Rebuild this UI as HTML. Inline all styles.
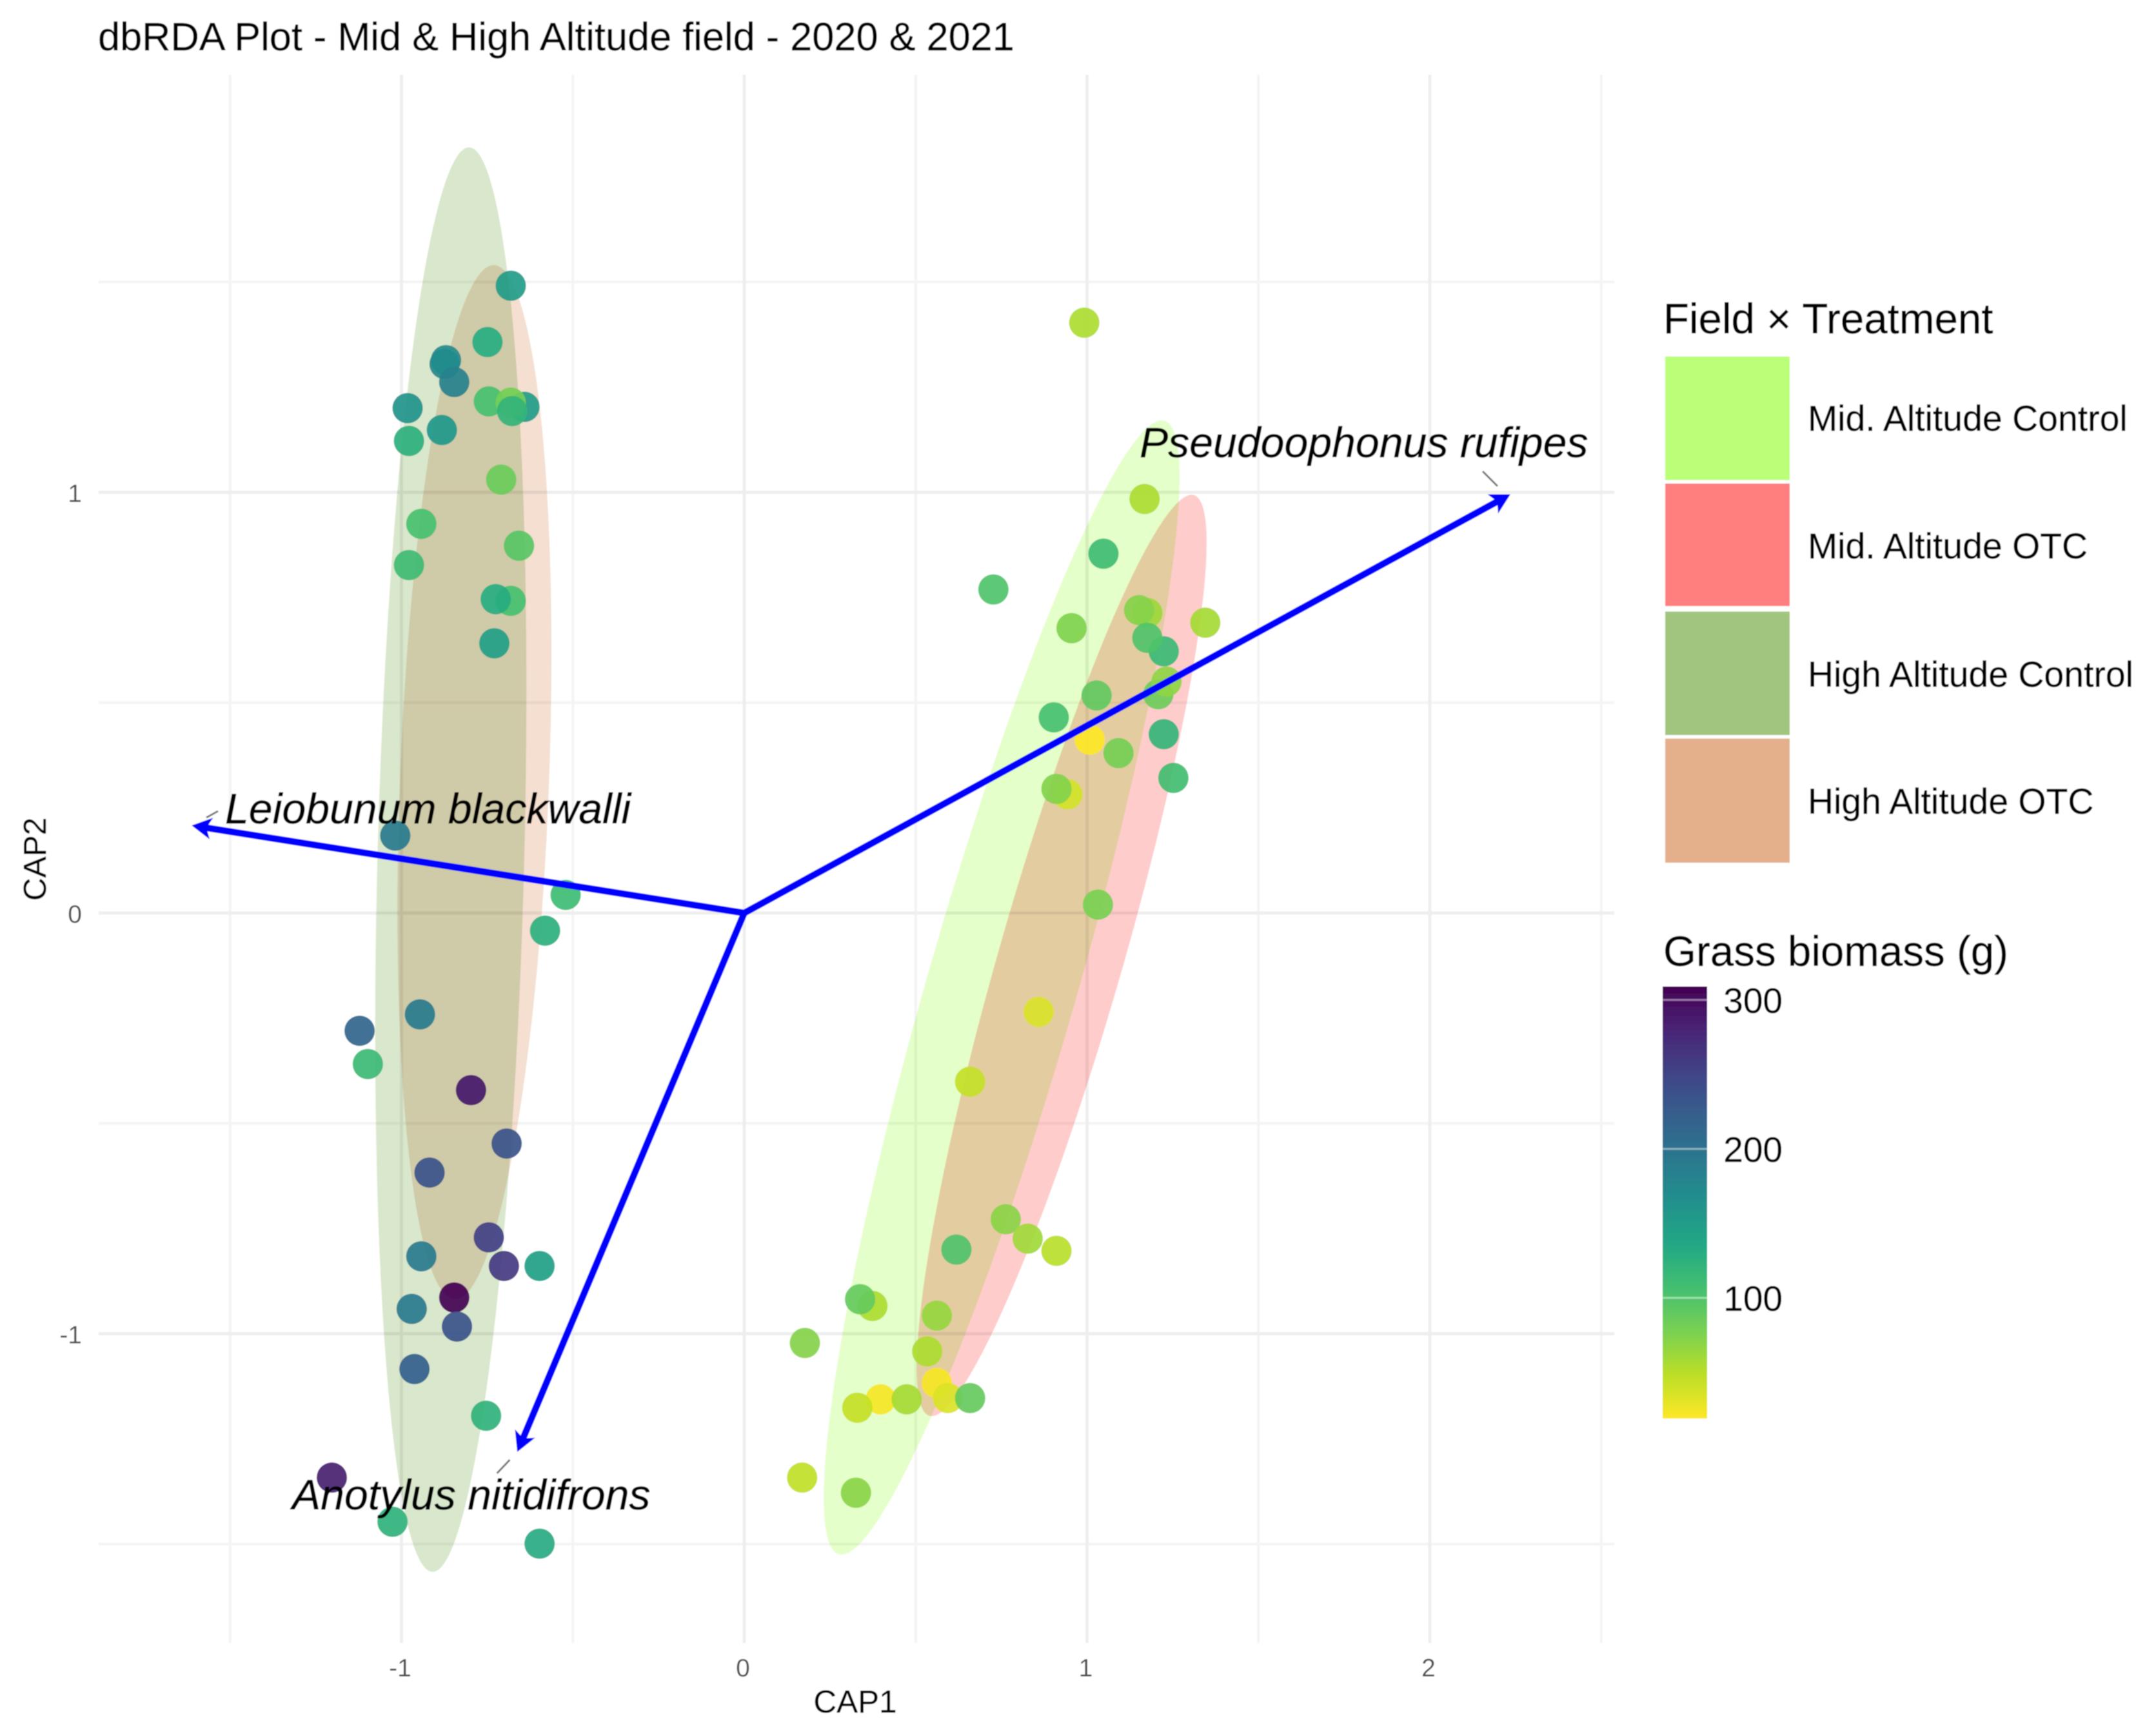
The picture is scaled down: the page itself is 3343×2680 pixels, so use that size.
<!DOCTYPE html>
<html lang="en">
<head>
<meta charset="utf-8">
<title>dbRDA Plot</title>
<style>
html,body{margin:0;padding:0;background:#fff;}
svg{display:block;}
text{font-family:"Liberation Sans",sans-serif;}
.sp{font-style:italic;font-size:66.2px;fill:#000;stroke:#000;stroke-width:0.6px;}
.key{font-size:55.4px;fill:#000;stroke:#000;stroke-width:0.4px;}
.lt{font-size:65.5px;fill:#000;stroke:#000;stroke-width:0.4px;}
.at{font-size:49.5px;fill:#000;stroke:#000;stroke-width:0.3px;}
.cb{font-size:55px;fill:#000;stroke:#000;stroke-width:0.3px;}
.tick{font-size:39px;fill:#4d4d4d;}
</style>
</head>
<body>
<svg id="chart" width="3343" height="2680" viewBox="0 0 3343 2680" xmlns="http://www.w3.org/2000/svg">
  <defs>
    <linearGradient id="viridis-grad" x1="0" y1="1" x2="0" y2="0"></linearGradient>
    <filter id="soft" x="0" y="0" width="100%" height="100%"><feGaussianBlur stdDeviation="0.85"/></filter>
  </defs>
  <g filter="url(#soft)">
    <rect width="3343" height="2680" fill="#fff"/>
    <g id="grid"></g>
    <g id="ellipses"></g>
    <g id="points"></g>
    <g id="arrows"></g>
    <g>
      <line x1="2299" y1="731" x2="2322" y2="754" stroke="#777" stroke-width="3"/>
      <line x1="338" y1="1258" x2="320" y2="1268" stroke="#777" stroke-width="3"/>
      <line x1="790.5" y1="2264" x2="770.6" y2="2285" stroke="#777" stroke-width="3"/>
      <text class="sp" x="1767" y="709">Pseudoophonus rufipes</text>
      <text class="sp" x="349" y="1277">Leiobunum blackwalli</text>
      <text class="sp" x="453" y="2341">Anotylus nitidifrons</text>
    </g>
    <g id="axis-labels"></g>
    <text x="152" y="78" font-size="61.3" fill="#000" stroke="#000" stroke-width="0.4">dbRDA Plot - Mid &amp; High Altitude field - 2020 &amp; 2021</text>
    <text class="at" x="1326" y="2656" text-anchor="middle">CAP1</text>
    <text class="at" transform="translate(71,1332.5) rotate(-90)" text-anchor="middle">CAP2</text>

    <g>
      <text class="lt" x="2579" y="517">Field × Treatment</text>
      <rect x="2582" y="553" width="193" height="191.5" fill="#bbff78"/>
      <rect x="2582" y="750" width="193" height="190" fill="#ff7f7f"/>
      <rect x="2582" y="948.5" width="193" height="191.5" fill="#a1c47f"/>
      <rect x="2582" y="1145.5" width="193" height="192.5" fill="#e3b08b"/>
      <text class="key" x="2803" y="668">Mid. Altitude Control</text>
      <text class="key" x="2803" y="866">Mid. Altitude OTC</text>
      <text class="key" x="2803" y="1065">High Altitude Control</text>
      <text class="key" x="2803" y="1262">High Altitude OTC</text>
    </g>

    <g id="colorbar">
      <text class="lt" x="2579" y="1498">Grass biomass (g)</text>
    </g>
  </g>
</svg>
<script>
// ---- axis ticks ----
const xMajorTicks = [-1, 0, 1, 2];
const xMinorTicks = [-1.5, -0.5, 0.5, 1.5, 2.5];
const yMajorTicks = [-1, 0, 1];
const yMinorTicks = [-1.5, -0.5, 0.5, 1.5];
const biomassTicks = [100, 200, 300];

// ---- site scores ----
const cap1 = [
  -0.683,-0.751,-0.876,-0.872,-0.848,-0.984,-0.643,-0.747,-0.683,-0.679,
  -0.884,-0.980,-0.711,-0.944,-0.659,-0.980,-0.683,-0.727,-0.731,-1.020,
  -0.523,-0.583,-1.124,-0.948,-1.100,-0.799,-0.695,-0.920,-0.747,-0.944,
  -0.703,-0.599,-0.848,-0.972,-0.840,-0.964,-0.755,-1.205,-1.028,-0.599,
  0.990,1.166,1.046,0.725,0.953,1.174,1.150,1.343,1.222,1.174,
  1.026,1.206,1.230,0.901,1.006,1.222,1.090,0.941,0.909,1.250,
  1.030,0.857,0.657,0.761,0.825,0.909,0.617,0.372,0.336,0.560,
  0.175,0.532,0.560,0.396,0.328,0.472,0.592,0.657,0.167,0.324
];
const cap2 = [
  1.491,1.357,1.305,1.314,1.262,1.200,1.203,1.216,1.213,1.193,
  1.148,1.122,1.030,0.925,0.873,0.827,0.742,0.746,0.641,0.184,
  0.043,-0.042,-0.280,-0.241,-0.359,-0.421,-0.548,-0.617,-0.771,-0.816,
  -0.839,-0.839,-0.914,-0.941,-0.983,-1.084,-1.195,-1.342,-1.447,-1.499,
  1.403,0.984,0.854,0.769,0.677,0.713,0.720,0.690,0.622,0.654,
  0.517,0.520,0.550,0.465,0.412,0.425,0.380,0.282,0.295,0.321,
  0.020,-0.235,-0.401,-0.728,-0.774,-0.803,-0.800,-0.934,-0.918,-0.957,
  -1.022,-1.042,-1.117,-1.156,-1.176,-1.156,-1.153,-1.153,-1.342,-1.378
];
const biomass = [
  150,130,175,170,182,160,150,105,80,120,
  155,125,85,105,95,110,105,130,145,190,
  110,125,215,190,112,290,235,235,255,190,
  260,145,309,190,235,220,122,285,122,132,
  55,55,110,100,75,62,72,58,112,100,
  90,85,68,105,19,120,80,38,73,108,
  78,35,45,70,60,50,100,55,88,65,
  72,55,22,22,45,58,35,88,47,70
];

// ---- group ellipses: centre, half extents, correlation ----
const ellipseNames = ["mid-control", "mid-otc", "high-control", "high-otc"];
const ellipseFills = ["#bbff78", "#ff7f7f", "#a1c47f", "#e3b08b"];
const ellipseCx = [0.751, 0.926, -0.856, -0.787];
const ellipseCy = [-0.177, -0.101, 0.127, 0.311];
const ellipseRx = [0.519, 0.423, 0.2206, 0.2246];
const ellipseRy = [1.348, 1.095, 1.693, 1.229];
const ellipseRho = [0.90, 0.896, 0.24, 0.25];

// ---- species vectors ----
const speciesNames = ["pseudoophonus", "leiobunum", "anotylus"];
const arrowCap1 = [2.235, -1.612, -0.662];
const arrowCap2 = [0.995, 0.208, -1.281];

const viridis = ["#440154","#482475","#414487","#355f8d","#2a788e","#21918c","#22a884","#44bf70","#7ad151","#bddf26","#fde725"];
const biomassMin = 19;
const biomassMax = 309;

const NS = "http://www.w3.org/2000/svg";
const xScale = v => 1154 + 531.5 * v;
const yScale = v => 1416 - 652.5 * v;
const PANEL = {l: 153, r: 2503, t: 116, b: 2548};
const barTop = 1530, barBottom = 2200, barLeft = 2578, barRight = 2647;
const biomassScale = v => barBottom - (v - biomassMin) / (biomassMax - biomassMin) * (barBottom - barTop);

function mk(tag, attrs, parent) {
  const el = document.createElementNS(NS, tag);
  for (const k in attrs) el.setAttribute(k, attrs[k]);
  parent.appendChild(el);
  return el;
}
function hexToRgb(h) {
  return [parseInt(h.slice(1,3),16), parseInt(h.slice(3,5),16), parseInt(h.slice(5,7),16)];
}
function biomassColor(v) {
  const c = Math.max(0, Math.min(1, (v - biomassMin) / (biomassMax - biomassMin)));
  const f = (1 - c) * (viridis.length - 1);
  const i = Math.min(viridis.length - 2, Math.floor(f));
  const a = hexToRgb(viridis[i]), b = hexToRgb(viridis[i + 1]);
  const w = f - i;
  return "rgb(" + a.map((q, j) => Math.round(q + (b[j] - q) * w)).join(",") + ")";
}

// grid
const gridG = document.getElementById("grid");
xMinorTicks.forEach(v => {
  const el = mk("line", {x1: xScale(v), x2: xScale(v), y1: PANEL.t, y2: PANEL.b, stroke: "#f4f4f4", "stroke-width": 4}, gridG);
  
  
});
yMinorTicks.forEach(v => {
  const el = mk("line", {x1: PANEL.l, x2: PANEL.r, y1: yScale(v), y2: yScale(v), stroke: "#f4f4f4", "stroke-width": 4}, gridG);
  
  
});
xMajorTicks.forEach(v => {
  const el = mk("line", {x1: xScale(v), x2: xScale(v), y1: PANEL.t, y2: PANEL.b, stroke: "#eeeeee", "stroke-width": 5}, gridG);
  
  
});
yMajorTicks.forEach(v => {
  const el = mk("line", {x1: PANEL.l, x2: PANEL.r, y1: yScale(v), y2: yScale(v), stroke: "#eeeeee", "stroke-width": 5}, gridG);
  
  
});

// tick labels
const labelsG = document.getElementById("axis-labels");
xMajorTicks.forEach(v => {
  const el = mk("text", {class: "tick", x: xScale(v) - 2, y: 2600, "text-anchor": "middle"}, labelsG);
  el.textContent = String(v);
  
  
});
yMajorTicks.forEach(v => {
  const el = mk("text", {class: "tick", x: 127, y: yScale(v) + 15, "text-anchor": "end"}, labelsG);
  el.textContent = String(v);
  
  
});

// ellipses
const ellG = document.getElementById("ellipses");
ellipseNames.forEach((name, i) => {
  const pts = [];
  const s = Math.sqrt(1 - ellipseRho[i] * ellipseRho[i]);
  for (let k = 0; k < 240; k++) {
    const t = k / 240 * 2 * Math.PI;
    const dx = ellipseCx[i] + ellipseRx[i] * Math.cos(t);
    const dy = ellipseCy[i] + ellipseRy[i] * (ellipseRho[i] * Math.cos(t) + s * Math.sin(t));
    pts.push(xScale(dx).toFixed(1) + "," + yScale(dy).toFixed(1));
  }
  const el = mk("polygon", {points: pts.join(" "), fill: ellipseFills[i], "fill-opacity": 0.4, style: "mix-blend-mode:multiply"}, ellG);
  
  
});

// points
const ptsG = document.getElementById("points");
cap1.forEach((v, i) => {
  const el = mk("circle", {cx: xScale(v) + 1, cy: yScale(cap2[i]), r: 23.5, fill: biomassColor(biomass[i]), "fill-opacity": 0.92}, ptsG);
  
  
});

// arrows
const arrG = document.getElementById("arrows");
speciesNames.forEach((name, i) => {
  const x0 = xScale(0), y0 = yScale(0);
  const tx = xScale(arrowCap1[i]), ty = yScale(arrowCap2[i]);
  const ang = Math.atan2(ty - y0, tx - x0);
  const ux = Math.cos(ang), uy = Math.sin(ang);
  const line = mk("line", {x1: x0, y1: y0, x2: tx - 18 * ux, y2: ty - 18 * uy, stroke: "#0000ff", "stroke-width": 10.5}, arrG);
  
  
  const back = 31, half = 17, notch = 23;
  const d = [
    [tx, ty],
    [tx - back * ux - half * uy, ty - back * uy + half * ux],
    [tx - notch * ux, ty - notch * uy],
    [tx - back * ux + half * uy, ty - back * uy - half * ux]
  ].map(p => p[0].toFixed(1) + "," + p[1].toFixed(1)).join(" ");
  const head = mk("polygon", {points: d, fill: "#0000ff"}, arrG);
  
  
});

// colorbar
const grad = document.getElementById("viridis-grad");
viridis.forEach((c, i) => {
  mk("stop", {offset: i / (viridis.length - 1), "stop-color": viridis[viridis.length - 1 - i]}, grad);
});
const cbG = document.getElementById("colorbar");
const bar = mk("rect", {x: barLeft, y: barTop, width: barRight - barLeft, height: barBottom - barTop, fill: "url(#viridis-grad)"}, cbG);


biomassTicks.forEach(v => {
  const y = biomassScale(v);
  const tk = mk("line", {x1: barLeft, x2: barRight, y1: y, y2: y, stroke: "#ffffff", "stroke-opacity": 0.45, "stroke-width": 3}, cbG);
  
  
  const lb = mk("text", {class: "cb", x: 2764, y: y + 20, "text-anchor": "end"}, cbG);
  lb.textContent = String(v);
  
  
});
</script>
</body>
</html>
